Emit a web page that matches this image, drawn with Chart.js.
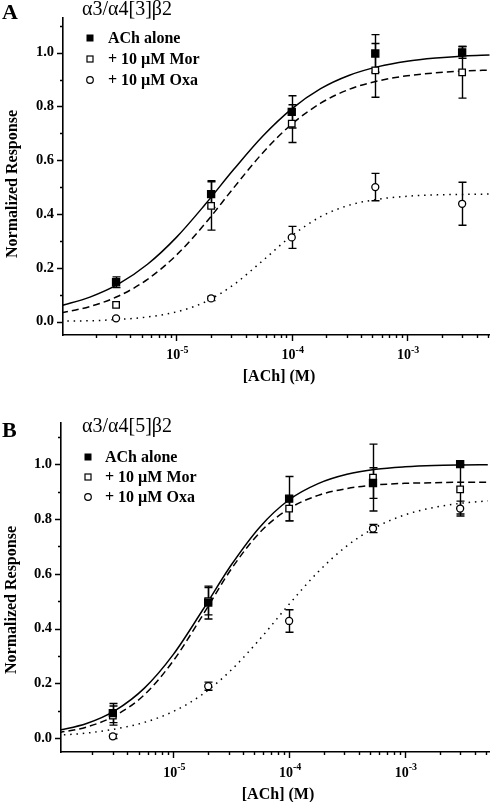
<!DOCTYPE html>
<html><head><meta charset="utf-8">
<script src="https://cdn.jsdelivr.net/npm/chart.js@4/dist/chart.umd.min.js"></script>
<style>
html,body{margin:0;padding:0;background:#fff;}
#wrap{position:relative;width:496px;height:802px;overflow:hidden;}
.c{position:absolute;left:0;width:496px;}
</style></head><body>
<div id="wrap">
<div class="c" style="top:0;height:400px"><canvas id="ca"></canvas></div>
<div class="c" style="top:400px;height:402px"><canvas id="cb"></canvas></div>
</div>
<script>
// ---------- data ----------
const concentrations = [3e-6, 2e-5, 1e-4, 5.3e-4, 3e-3];
const seriesNames = ['ACh alone', '+ 10 \u00b5M Mor', '+ 10 \u00b5M Oxa'];

// Panel A  (α3/α4[3]β2)
const aAchMean = [0.146, 0.474, 0.780, 0.997, 1.001];
const aAchErr  = [0.020, 0.050, 0.060, 0.070, 0.022];
const aMorMean = [0.062, 0.430, 0.736, 0.934, 0.927];
const aMorErr  = [0.000, 0.090, 0.070, 0.100, 0.096];
const aOxaMean = [0.012, 0.086, 0.313, 0.500, 0.438];
const aOxaErr  = [0.000, 0.008, 0.041, 0.051, 0.080];

// Panel B  (α3/α4[5]β2)
const bAchMean = [0.092, 0.495, 0.874, 0.931, 1.000];
const bAchErr  = [0.035, 0.060, 0.081, 0.056, 0.000];
const bMorMean = [0.083, 0.500, 0.838, 0.951, 0.908];
const bMorErr  = [0.035, 0.050, 0.045, 0.122, 0.090];
const bOxaMean = [0.007, 0.190, 0.428, 0.765, 0.838];
const bOxaErr  = [0.008, 0.015, 0.041, 0.015, 0.027];

// fitted curves
const curveX = [1e-6, 1.78e-6, 3.16e-6, 5.62e-6, 1e-5, 1.78e-5, 3.16e-5, 5.62e-5, 1e-4, 1.78e-4, 3.16e-4, 5.62e-4, 1e-3, 1.78e-3, 3.16e-3, 5.2e-3];
const aAchFit = [0.059, 0.091, 0.140, 0.213, 0.313, 0.436, 0.567, 0.690, 0.791, 0.866, 0.916, 0.948, 0.968, 0.980, 0.988, 0.991];
const aMorFit = [0.032, 0.056, 0.095, 0.157, 0.247, 0.365, 0.499, 0.628, 0.734, 0.812, 0.864, 0.895, 0.914, 0.925, 0.932, 0.935];
const aOxaFit = [0.002, 0.003, 0.008, 0.017, 0.036, 0.073, 0.138, 0.227, 0.319, 0.390, 0.433, 0.455, 0.466, 0.471, 0.473, 0.474];
const bAchFit = [0.028, 0.054, 0.102, 0.183, 0.306, 0.466, 0.632, 0.772, 0.870, 0.929, 0.963, 0.981, 0.990, 0.995, 0.997, 0.998];
const bMorFit = [0.020, 0.041, 0.083, 0.159, 0.283, 0.447, 0.617, 0.752, 0.838, 0.886, 0.911, 0.924, 0.930, 0.932, 0.934, 0.934];
const bOxaFit = [0.011, 0.019, 0.034, 0.058, 0.098, 0.160, 0.249, 0.363, 0.489, 0.607, 0.702, 0.770, 0.815, 0.842, 0.858, 0.866];

// axes
const yMajorTicks = [0.0, 0.2, 0.4, 0.6, 0.8, 1.0];
const yMinorTicks = [0.1, 0.3, 0.5, 0.7, 0.9, 1.1];
const xMajorTicks = [1e-5, 1e-4, 1e-3];
const xTickExponents = ['-5', '-4', '-3'];
const xMinorTicks = [2e-6,3e-6,4e-6,5e-6,6e-6,7e-6,8e-6,9e-6,
                     2e-5,3e-5,4e-5,5e-5,6e-5,7e-5,8e-5,9e-5,
                     2e-4,3e-4,4e-4,5e-4,6e-4,7e-4,8e-4,9e-4,
                     2e-3,3e-3,4e-3,5e-3];
const xAxisTitle = '[ACh] (M)';
const yAxisTitle = 'Normalized Response';

// ---------- drawing ----------
const SERIF = "'Liberation Serif','Times New Roman',serif";

function pts(xs, ys) { return xs.map((x, i) => ({ x: x, y: ys[i] })); }

function makePanel(canvasId, P) {
  const decor = {
    id: 'decor',
    beforeDatasetsDraw(chart) {
      const xs = chart.scales.x, ys = chart.scales.y, ctx = chart.ctx;
      ctx.save();
      ctx.strokeStyle = '#000'; ctx.lineWidth = 1.4;
      P.errors.forEach(s => {
        s.mean.forEach((m, i) => {
          const e = s.err[i]; if (!e) return;
          const px = Math.round(xs.getPixelForValue(concentrations[i])) + 0.5;
          const y1 = ys.getPixelForValue(m + e), y2 = ys.getPixelForValue(m - e);
          ctx.beginPath();
          ctx.moveTo(px, y1); ctx.lineTo(px, y2);
          ctx.moveTo(px - 4, y1); ctx.lineTo(px + 4, y1);
          ctx.moveTo(px - 4, y2); ctx.lineTo(px + 4, y2);
          ctx.stroke();
        });
      });
      ctx.restore();
    },
    afterDraw(chart) {
      const xs = chart.scales.x, ys = chart.scales.y, ctx = chart.ctx, ca = chart.chartArea;
      ctx.save();
      ctx.strokeStyle = '#000'; ctx.fillStyle = '#000'; ctx.lineWidth = 1.4;
      // y ticks (outward)
      ctx.beginPath();
      yMajorTicks.forEach(v => { const py = Math.round(ys.getPixelForValue(v)) + 0.5; ctx.moveTo(ca.left - 6, py); ctx.lineTo(ca.left, py); });
      yMinorTicks.forEach(v => { const py = Math.round(ys.getPixelForValue(v)) + 0.5; ctx.moveTo(ca.left - 3, py); ctx.lineTo(ca.left, py); });
      // x ticks (outward)
      xMajorTicks.forEach(v => { const px = Math.round(xs.getPixelForValue(v)) + 0.5; ctx.moveTo(px, ca.bottom); ctx.lineTo(px, ca.bottom + 6); });
      xMinorTicks.forEach(v => { const px = Math.round(xs.getPixelForValue(v)) + 0.5; ctx.moveTo(px, ca.bottom); ctx.lineTo(px, ca.bottom + 3); });
      ctx.stroke();
      // x tick labels 10^n
      ctx.textBaseline = 'alphabetic'; ctx.textAlign = 'left';
      xMajorTicks.forEach((v, i) => {
        const px = xs.getPixelForValue(v);
        ctx.font = 'bold 14px ' + SERIF; const w1 = ctx.measureText('10').width;
        ctx.font = 'bold 10px ' + SERIF; const w2 = ctx.measureText(xTickExponents[i]).width;
        const x0 = px - (w1 + w2) / 2 + 1;
        ctx.font = 'bold 14px ' + SERIF; ctx.fillText('10', x0, P.xLabelY + 5);
        ctx.font = 'bold 10px ' + SERIF; ctx.fillText(xTickExponents[i], x0 + w1, P.xLabelY - 1.5);
      });
      // axis titles
      ctx.font = 'bold 16px ' + SERIF; ctx.textAlign = 'center'; ctx.textBaseline = 'middle';
      ctx.fillText(xAxisTitle, P.xTitleX, P.xTitleY);
      ctx.save();
      ctx.translate(P.yTitleX, P.yTitleY); ctx.rotate(-Math.PI / 2);
      ctx.fillText(yAxisTitle, 0, 0);
      ctx.restore();
      // panel letter and title
      ctx.textAlign = 'left'; ctx.textBaseline = 'alphabetic';
      ctx.font = 'bold 22px ' + SERIF; ctx.fillText(P.letter, 2, P.letterY);
      ctx.font = '20px ' + SERIF; ctx.fillText(P.title, P.titleX, P.titleY);
      // legend
      ctx.font = 'bold 16px ' + SERIF; ctx.textBaseline = 'middle';
      P.legendY.forEach((ly, i) => {
        ctx.lineWidth = 1.2;
        if (i === 0) { ctx.fillRect(P.legendMX - 3.5, ly - 3.5, 7, 7); }
        else if (i === 1) { ctx.strokeRect(P.legendMX - 3, ly - 3, 6, 6); }
        else { ctx.beginPath(); ctx.arc(P.legendMX, ly, 3.3, 0, Math.PI * 2); ctx.stroke(); }
        ctx.fillText(seriesNames[i], P.legendTX, ly + 1);
      });
      ctx.restore();
    }
  };

  const curve = (data, dash) => ({
    type: 'scatter', data: data, showLine: true, pointRadius: 0, borderColor: '#000',
    borderWidth: 1.5, borderDash: dash, cubicInterpolationMode: 'monotone', order: 2
  });
  const marker = (data, style, fill, r) => ({
    type: 'scatter', data: data, pointStyle: style, pointRadius: r, pointHoverRadius: r,
    pointBackgroundColor: fill, pointBorderColor: '#000', pointBorderWidth: 1.3, showLine: false, order: 1
  });

  new Chart(document.getElementById(canvasId), {
    type: 'scatter',
    data: {
      datasets: [
        curve(pts(curveX, P.fits[0]), []),
        curve(pts(curveX, P.fits[1]), [7, 4]),
        curve(pts(curveX, P.fits[2]), [1.5, 4.8]),
        marker(pts(concentrations, P.errors[0].mean), 'rect', '#000', 5),
        marker(pts(concentrations, P.errors[1].mean), 'rect', '#fff', 4.6),
        marker(pts(concentrations, P.errors[2].mean), 'circle', '#fff', 3.5)
      ]
    },
    options: {
      responsive: true, maintainAspectRatio: false, animation: false,
      devicePixelRatio: 1,
      layout: { padding: { top: P.padTop, right: P.padRight, left: 0, bottom: 0 } },
      plugins: { legend: { display: false }, tooltip: { enabled: false }, title: { display: false } },
      events: [],
      scales: {
        x: {
          type: 'logarithmic', min: P.xMin, max: P.xMax,
          grid: { display: false, drawTicks: false },
          border: { display: true, color: '#000', width: 1.6 },
          ticks: { display: false },
          afterFit: s => { s.height = P.xAxisH; }
        },
        y: {
          type: 'linear', min: P.yMin, max: P.yMax,
          grid: { display: false, drawTicks: false },
          border: { display: true, color: '#000', width: 1.6 },
          afterBuildTicks: s => { s.ticks = yMajorTicks.map(v => ({ value: v })); },
          ticks: {
            color: '#000', padding: 9, font: { family: SERIF, size: 14.5, weight: 'bold' },
            callback: v => Number(v).toFixed(1)
          },
          afterFit: s => { s.width = P.yAxisW; }
        }
      }
    },
    plugins: [decor]
  });
}

makePanel('ca', {
  letter: 'A', title: '\u03b13/\u03b14[3]\u03b22', letterY: 19, titleX: 82, titleY: 15,
  legendY: [38, 59, 80], legendMX: 90, legendTX: 108,
  errors: [{ mean: aAchMean, err: aAchErr }, { mean: aMorMean, err: aMorErr }, { mean: aOxaMean, err: aOxaErr }],
  fits: [aAchFit, aMorFit, aOxaFit],
  padTop: 10, padRight: 6, yAxisW: 63, xAxisH: 65,
  xMin: 1.04e-6, xMax: 5.2e-3, yMin: -0.05, yMax: 1.13,
  xLabelY: 354, xTitleX: 279, xTitleY: 377, yTitleX: 13, yTitleY: 184
});

makePanel('cb', {
  letter: 'B', title: '\u03b13/\u03b14[5]\u03b22', letterY: 37, titleX: 82, titleY: 32,
  legendY: [57, 77, 97], legendMX: 88, legendTX: 105,
  errors: [{ mean: bAchMean, err: bAchErr }, { mean: bMorMean, err: bMorErr }, { mean: bOxaMean, err: bOxaErr }],
  fits: [bAchFit, bMorFit, bOxaFit],
  padTop: 23, padRight: 5, yAxisW: 61, xAxisH: 50,
  xMin: 1.07e-6, xMax: 5.4e-3, yMin: -0.05, yMax: 1.15,
  xLabelY: 371.7, xTitleX: 278, xTitleY: 395, yTitleX: 12, yTitleY: 200
});
</script>
</body></html>
